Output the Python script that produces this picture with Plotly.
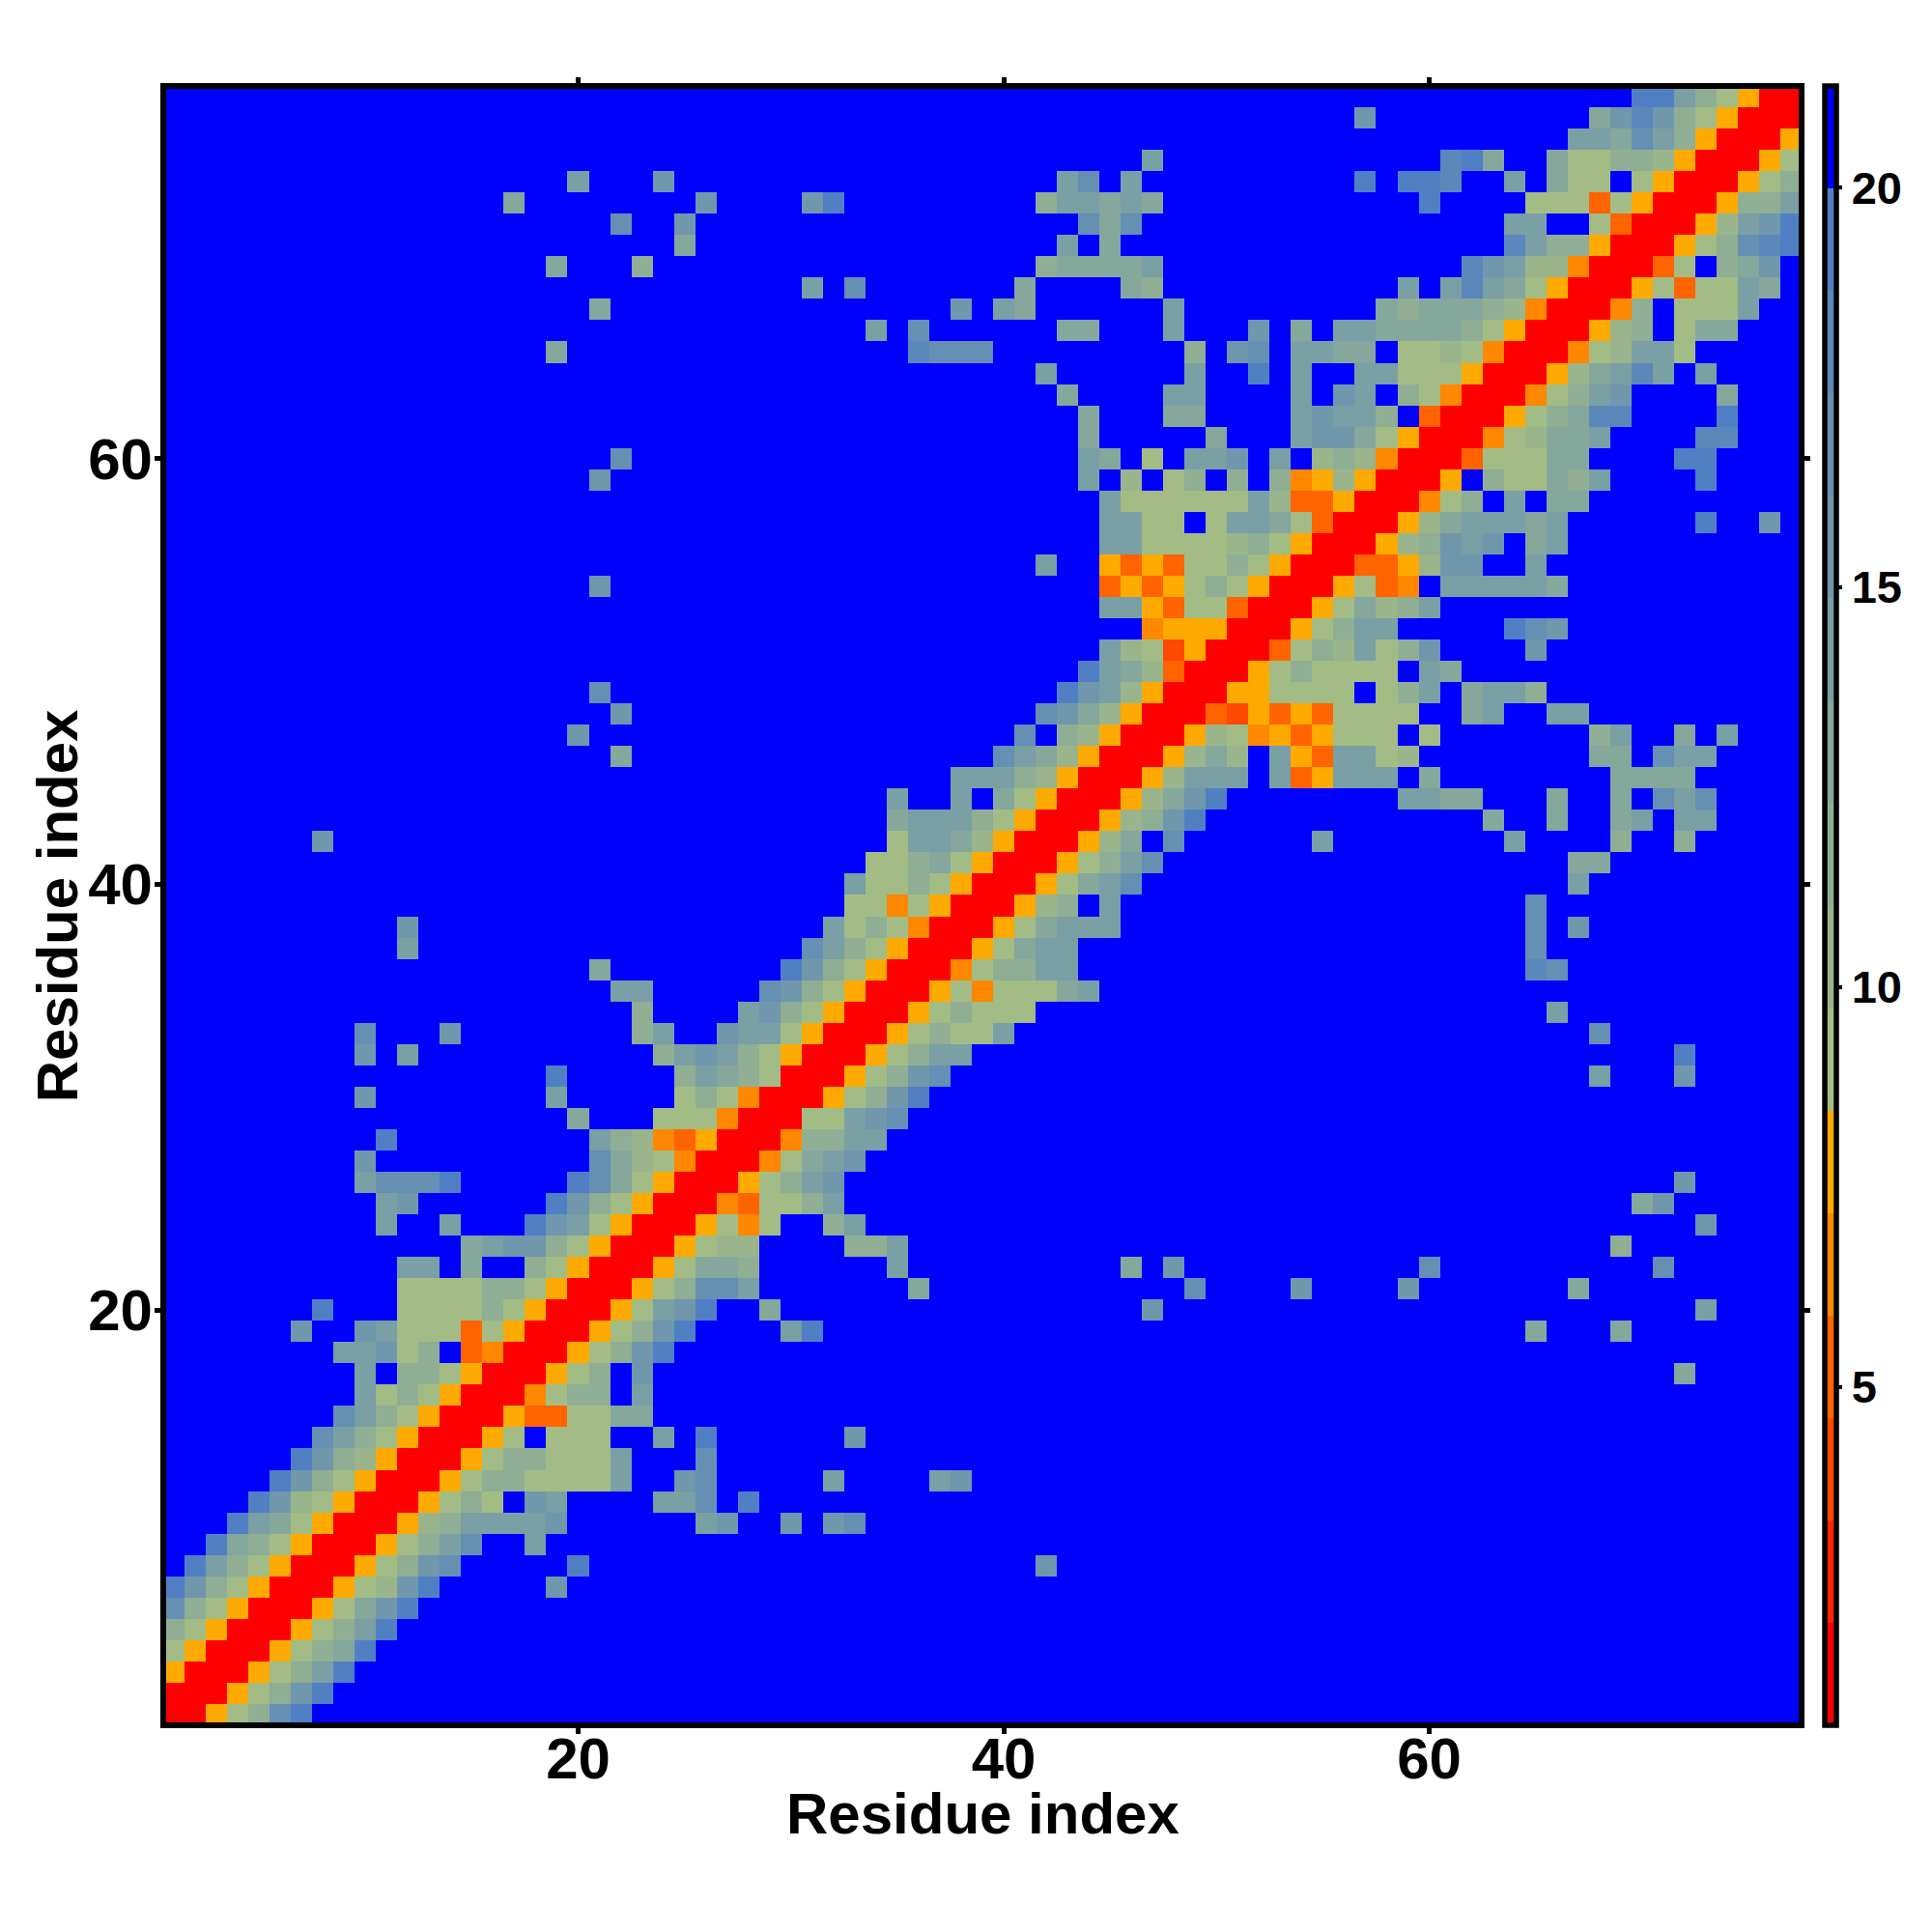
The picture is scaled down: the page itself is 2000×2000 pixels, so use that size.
import plotly.graph_objects as go

# Number of residues and the colour-band layout
n_residues = 77
z_low = 0.77
band_width = 1.28125
band_colors = ["#ff0000", "#ff2400", "#ff4800", "#ff6400", "#ff8800", "#ffaa00",
               "#a3bc86", "#9ab58c", "#90ae94", "#85a79c", "#7a9fa4", "#7097ac",
               "#658fb3", "#5b88bb", "#5080c3", "#0000ff"]
far_band = 15  # blue: beyond the cut-off

# Colour band of each contact: row residue -> {first column residue: [bands of consecutive residues]}
# The map is symmetric, so only column >= row is listed.
contact_bands = {
    1: {1: [0,0,5,6,8,12,14]},
    2: {2: [0,0,5,6,8,11,14]},
    3: {3: [0,0,5,6,8,10,14]},
    4: {4: [0,0,5,6,8,9,14]},
    5: {5: [0,0,5,6,8,10,14]},
    6: {6: [0,0,5,6,9,11,14]},
    7: {7: [0,0,5,6,7,11,14], 19: [11]},
    8: {8: [0,0,5,6,8,11,12], 20: [14], 42: [11]},
    9: {9: [0,0,5,6,8,10,12], 18: [10]},
    10: {10: [0,0,5,7,8,10,10,10,10,11], 26: [10,11], 30: [11], 32: [11,12]},
    11: {11: [0,0,5,6,8,6,15,11,10], 24: [10,10,12], 28: [14]},
    12: {12: [0,0,5,6,8,8,6,6,6,6,10], 25: [11,12], 32: [10], 37: [10,11]},
    13: {13: [0,0,5,6,8,8,6,6,6,10], 26: [12]},
    14: {14: [0,0,5,6,15,6,6,6], 24: [10], 26: [14], 33: [11]},
    15: {15: [0,0,5,3,3,6,6,9,9]},
    16: {16: [0,0,4,6,8,8,15,10]},
    17: {17: [0,0,5,6,8,15,11], 72: [9]},
    18: {18: [0,0,5,6,8,11,14]},
    19: {19: [0,0,5,6,8,11,14], 30: [10,14], 65: [9], 69: [9]},
    20: {20: [0,0,5,6,10,11,14], 29: [9], 47: [11], 73: [10]},
    21: {21: [0,0,5,6,8,12,12,10], 36: [9], 49: [12], 54: [11], 59: [11], 67: [9]},
    22: {22: [0,0,5,6,9,9,8], 35: [10], 46: [9], 48: [11], 60: [12], 71: [12]},
    23: {23: [0,0,5,6,7,7], 33: [8,8,10], 69: [8]},
    24: {24: [0,0,5,6,4,6], 32: [8,10], 73: [11]},
    25: {25: [0,0,4,3,6,6,8,10], 70: [9,11]},
    26: {26: [0,0,5,6,8,10,11], 72: [11]},
    27: {27: [0,0,4,6,9,10,11]},
    28: {28: [0,0,4,8,8,10,10]},
    29: {29: [0,0,6,6,10,11,12]},
    30: {30: [0,0,5,6,8,11,14]},
    31: {31: [0,0,5,6,8,11,12], 68: [10], 72: [11]},
    32: {32: [0,0,5,6,8,10,10], 72: [14]},
    33: {33: [0,0,5,6,8,6,6,10], 68: [12]},
    34: {34: [0,0,5,6,8,6,6,6], 66: [10]},
    35: {35: [0,0,5,6,4,6,6,6,9,10]},
    36: {36: [0,0,4,6,8,8,10,10], 65: [13,12]},
    37: {37: [0,0,5,6,9,10,10], 65: [12]},
    38: {38: [0,0,5,6,9,10,10,10], 65: [12], 67: [11]},
    39: {39: [0,0,5,7,8,15,10], 65: [12]},
    40: {40: [0,0,5,6,9,10,12], 67: [10]},
    41: {41: [0,0,5,6,8,10,12], 67: [9,9]},
    42: {42: [0,0,5,7,9,15,12], 55: [10], 64: [10], 69: [8], 72: [8]},
    43: {43: [0,0,5,7,8,11,14], 63: [9], 66: [9], 69: [9,10], 72: [10,10]},
    44: {44: [0,0,5,7,9,11,14], 59: [10,10,9,9], 66: [9], 69: [9,15,12,10,12]},
    45: {45: [0,0,5,7,10,10,10,15,10,3,5,10,10,10,15,9], 69: [9,9,9,9]},
    46: {46: [0,0,5,7,9,7,15,10,5,3,10,10,6,7], 68: [9,9], 71: [12,10,10]},
    47: {47: [0,0,5,7,6,4,5,3,5,6,6,6,15,6], 68: [8,10], 72: [9], 74: [10]},
    48: {48: [0,0,3,2,5,3,5,3,6,6,6,6], 62: [9,10], 66: [10,10]},
    49: {49: [0,0,5,5,6,6,6,6,15,6,8,10], 62: [9,10,10,8]},
    50: {50: [0,0,5,6,8,6,6,6,6,15,10,9]},
    51: {51: [0,0,3,6,8,7,10,6,8,11], 65: [11]},
    52: {52: [0,0,5,6,8,10,10], 64: [14,12,11]},
    53: {53: [0,0,5,6,9,7,8,10]},
    54: {54: [0,0,5,6,3,4,15,10,10,10,10,10,9]},
    55: {55: [0,0,3,3,5,7,11,11], 65: [10]},
    56: {56: [0,0,5,7,8,11,10,11,15,9,10]},
    57: {57: [0,0,5,7,9,10,10,10,9,10], 73: [14], 76: [11]},
    58: {58: [0,0,4,6,8,15,10,15,9,9]},
    59: {59: [0,0,5,15,8,6,6,9,8,10], 73: [14]},
    60: {60: [0,0,3,6,6,6,9,9], 72: [14,14]},
    61: {61: [0,0,4,6,7,9,9,10], 73: [13,13]},
    62: {62: [0,0,5,6,8,9,13,13], 74: [14]},
    63: {63: [0,0,4,6,8,10,11], 74: [9]},
    64: {64: [0,0,5,7,9,10,13,10], 73: [10]},
    65: {65: [0,0,4,6,7,10,10,6]},
    66: {66: [0,0,5,7,8,15,6,9,9]},
    67: {67: [0,0,4,8,15,6,6,6,10]},
    68: {68: [0,0,5,6,3,6,6,10,9]},
    69: {69: [0,0,3,6,15,8,9,11]},
    70: {70: [0,0,5,6,8,12,13,14]},
    71: {71: [0,0,5,7,10,11,14]},
    72: {72: [0,0,5,8,8,10]},
    73: {73: [0,0,5,6,8]},
    74: {74: [0,0,5,6]},
    75: {75: [0,0,5]},
    76: {76: [0,0]},
    77: {77: [0]},
}

axis_ticks = [20, 40, 60]
colorbar_ticks = [5, 10, 15, 20]
axis_title = "Residue index"

residues = list(range(1, n_residues + 1))
z_high = z_low + band_width * len(band_colors)


def band_value(band):
    return z_low + (band + 0.5) * band_width


z = [[band_value(far_band)] * n_residues for _ in residues]
for row, runs in contact_bands.items():
    for start, bands in runs.items():
        for offset, band in enumerate(bands):
            col = start + offset
            z[row - 1][col - 1] = band_value(band)
            z[col - 1][row - 1] = band_value(band)

colorscale = []
for k, color in enumerate(band_colors):
    colorscale.append([k / len(band_colors), color])
    colorscale.append([(k + 1) / len(band_colors), color])

W = 2000
PAGE_OFFSET = 8  # the page's own body margin
left, right, top, bottom = 169.2 - PAGE_OFFSET, 1865.5 - PAGE_OFFSET, 89.0 - PAGE_OFFSET, 1785.8 - PAGE_OFFSET
FONT = "Liberation Sans"
tick_font = dict(family=FONT, size=60, color="black", weight="bold")
title_font = dict(family=FONT, size=60, color="black", weight="bold")

fig = go.Figure(go.Heatmap(
    x=residues, y=residues, z=z, zmin=z_low, zmax=z_high,
    colorscale=colorscale, xgap=0, ygap=0,
    colorbar=dict(
        x=(1889.5 - PAGE_OFFSET - left) / (right - left), xanchor="left", xpad=0,
        y=0, yanchor="bottom", ypad=0,
        lenmode="fraction", len=1,
        thicknessmode="pixels", thickness=11.5,
        outlinecolor="black", outlinewidth=5.5, borderwidth=0,
        tickmode="array", tickvals=colorbar_ticks, ticks="outside",
        ticklen=4, tickwidth=4, tickcolor="black",
        tickfont=dict(family=FONT, size=47, color="black", weight="bold"),
    ),
))

axis_common = dict(
    range=[0.5, 77.5], tickmode="array", tickvals=axis_ticks,
    ticks="outside", ticklen=8, tickwidth=5, tickcolor="black",
    mirror="ticks", showline=False, showgrid=False, zeroline=False,
    tickfont=tick_font, automargin=False,
)
fig.update_xaxes(ticklabelstandoff=-26, **axis_common)
fig.update_yaxes(ticklabelstandoff=-10, **axis_common)

plot_h = bottom - top
plot_w = right - left
fig.update_layout(
    width=W, height=W,
    margin=dict(l=left, r=W - right, t=top, b=W - bottom, pad=0, autoexpand=False),
    paper_bgcolor="white", plot_bgcolor="white",
    shapes=[dict(type="rect", xref="paper", yref="paper", x0=0, x1=1, y0=0, y1=1,
                 line=dict(color="black", width=6), layer="above")],
    annotations=[
        dict(text=axis_title, font=title_font, showarrow=False, xref="paper", yref="paper",
             x=0.5 + 1 / plot_w, y=-(1877 - 8 - bottom) / plot_h, xanchor="center", yanchor="middle"),
        dict(text=axis_title, font=title_font, showarrow=False, xref="paper", yref="paper",
             x=-(left - (60 - 8)) / plot_w, y=0.5, xanchor="center", yanchor="middle", textangle=-90),
    ],
)
fig.write_html("out.html")
